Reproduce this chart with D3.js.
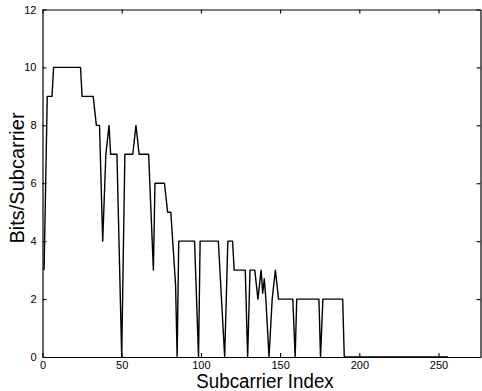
<!DOCTYPE html>
<html>
<head>
<meta charset="utf-8">
<script src="https://cdn.jsdelivr.net/npm/d3@7"></script>
<style>
  html, body { margin: 0; padding: 0; background: #fff; }
  svg { display: block; }
  text { font-family: "Liberation Sans", Arial, Helvetica, sans-serif; fill: #000; }
</style>
</head>
<body>
<svg id="chart" width="482" height="391"></svg>
<script>
// ---- data ----
const subcarrier = [1, 3, 6, 7, 24, 25, 32, 34, 36, 38, 40, 42, 43, 47, 50, 52, 57, 59, 61, 67,
  70, 71, 77, 79, 81, 84, 85, 86, 96, 98.5, 99.5, 111, 115, 117, 120, 121, 128, 129.5, 131, 134,
  136, 138, 139, 140, 141, 143, 145, 147, 149, 158, 159.5, 160.5, 174.5, 175.5, 177, 189.5, 190.5, 256];
const bits = [3, 9, 9, 10, 10, 9, 9, 8, 8, 4, 7, 8, 7, 7, 0, 7, 7, 8, 7, 7,
  3, 6, 6, 5, 5, 2.5, 0, 4, 4, 0, 4, 4, 0, 4, 4, 3, 3, 0, 3, 3,
  2, 3, 2.2, 2.7, 2, 0, 2, 3, 2, 2, 0, 2, 2, 0, 2, 2, 0, 0];
const xTicks = [0, 50, 100, 150, 200, 250];
const yTicks = [0, 2, 4, 6, 8, 10, 12];
const xLabel = "Subcarrier Index";
const yLabel = "Bits/Subcarrier";

// ---- layout ----
const mLeft = 42.5, mRight = 480.5, mTop = 9.5, mBottom = 357;
const svg = d3.select("#chart");
const x = d3.scaleLinear().domain([0, 276.5]).range([mLeft, mRight]);
const y = d3.scaleLinear().domain([0, 12]).range([mBottom, mTop]);

svg.append("defs").append("clipPath").attr("id", "clip")
  .append("rect").attr("x", mLeft).attr("y", mTop).attr("width", mRight - mLeft).attr("height", mBottom - mTop);

// data line
const pts = subcarrier.map((s, i) => [s, bits[i]]);
svg.append("path")
  .datum(pts)
  .attr("clip-path", "url(#clip)")
  .attr("fill", "none")
  .attr("stroke", "#000")
  .attr("stroke-width", 1.4)
  .attr("stroke-linejoin", "round")
  .attr("d", d3.line().x(d => x(d[0])).y(d => y(d[1])));

// axes
function style(g) {
  g.selectAll(".domain").attr("stroke", "#000").attr("stroke-width", 1.2);
  g.selectAll(".tick line").attr("stroke", "#000").attr("stroke-width", 1.1);
  g.selectAll(".tick text").attr("font-size", "11px").attr("fill", "#000")
    .style("font-family", "'Liberation Sans', Arial, sans-serif");
}
svg.append("g").attr("transform", `translate(0,${mBottom})`)
  .call(d3.axisBottom(x).tickValues(xTicks).tickSize(-4).tickSizeOuter(0).tickPadding(4))
  .call(style);
svg.append("g").attr("transform", `translate(0,${mTop})`)
  .call(d3.axisTop(x).tickValues(xTicks).tickSize(-4).tickSizeOuter(0).tickFormat(""))
  .call(style);
svg.append("g").attr("transform", `translate(${mLeft},0)`)
  .call(d3.axisLeft(y).tickValues(yTicks).tickSize(-4).tickSizeOuter(0).tickPadding(6))
  .call(style);
svg.append("g").attr("transform", `translate(${mRight},0)`)
  .call(d3.axisRight(y).tickValues(yTicks).tickSize(-4).tickSizeOuter(0).tickFormat(""))
  .call(style);

// axis titles
svg.append("text")
  .attr("transform", "translate(265,388) scale(0.96,1)")
  .attr("text-anchor", "middle")
  .attr("font-size", "19.5px")
  .text(xLabel);
svg.append("text")
  .attr("transform", "translate(24,178) rotate(-90)")
  .attr("text-anchor", "middle")
  .attr("font-size", "20px")
  .text(yLabel);
</script>
</body>
</html>
